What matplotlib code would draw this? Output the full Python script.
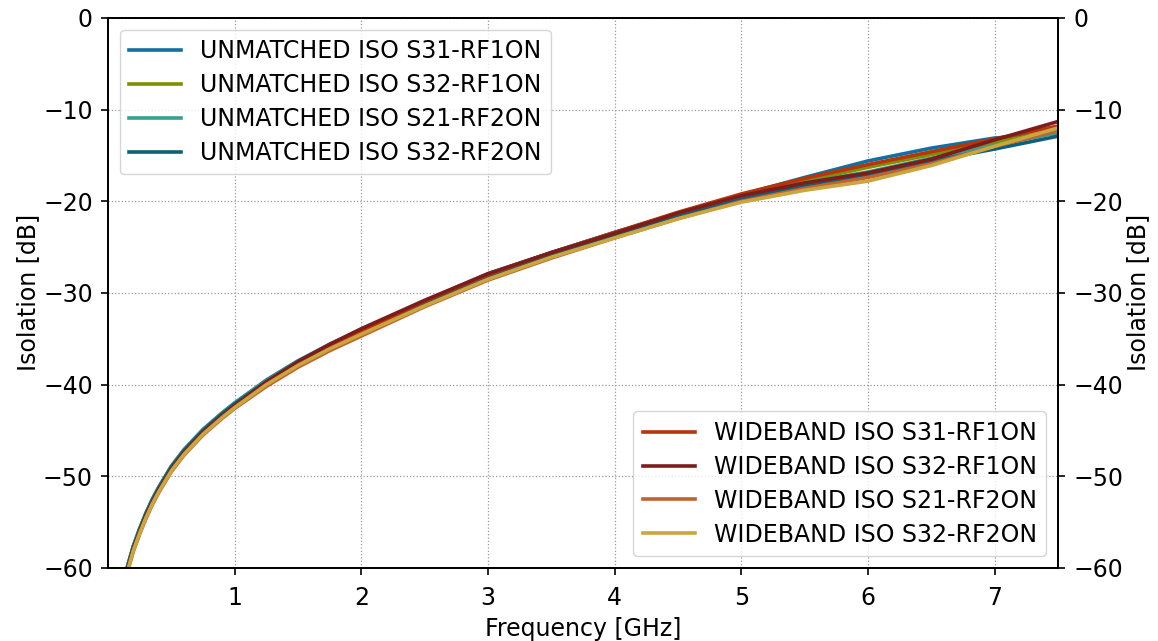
import matplotlib
matplotlib.use('Agg')
import matplotlib.pyplot as plt

# Frequency points [GHz]
freq = [0.10, 0.15, 0.20, 0.25, 0.30, 0.35, 0.40, 0.50, 0.60, 0.75, 0.90, 1.00,
        1.25, 1.50, 1.75, 2.00, 2.50, 3.00, 3.50, 4.00, 4.50, 5.00, 5.50,
        6.00, 6.50, 7.00, 7.50]

# Unmatched isolation [dB]
um_s31_rf1 = [-64.3, -60.0, -57.6, -55.7, -54.0, -52.5, -51.2, -48.9, -47.1, -44.9, -43.1, -42.0,
              -39.5, -37.4, -35.6, -34.0, -30.9, -27.9, -25.6, -23.4, -21.3, -19.3, -17.4,
              -15.6, -14.2, -13.1, -12.6]
um_s32_rf1 = [-64.4, -60.1, -57.7, -55.8, -54.1, -52.6, -51.3, -49.0, -47.2, -45.0, -43.2, -42.1,
              -39.7, -37.6, -35.8, -34.2, -31.0, -28.1, -25.8, -23.6, -21.5, -19.5, -17.8,
              -16.3, -14.9, -13.6, -12.2]
um_s21_rf2 = [-64.3, -60.0, -57.6, -55.7, -54.0, -52.5, -51.2, -48.9, -47.1, -44.9, -43.1, -42.0,
              -39.6, -37.5, -35.8, -34.2, -31.1, -28.0, -25.6, -23.4, -21.4, -19.6, -18.0,
              -16.8, -15.3, -13.9, -12.5]
um_s32_rf2 = [-64.4, -60.1, -57.7, -55.8, -54.1, -52.6, -51.3, -49.0, -47.2, -45.0, -43.2, -42.1,
              -39.7, -37.6, -35.9, -34.3, -31.2, -28.2, -25.8, -23.7, -21.7, -19.8, -18.3,
              -17.1, -15.6, -14.3, -12.9]

# Wideband isolation [dB]
wb_s31_rf1 = [-64.7, -60.4, -58.0, -56.1, -54.4, -52.9, -51.6, -49.3, -47.5, -45.3, -43.5, -42.4,
              -39.9, -37.8, -35.9, -34.2, -30.9, -28.0, -25.6, -23.4, -21.2, -19.2, -17.5,
              -16.0, -14.6, -13.2, -11.8]
wb_s32_rf1 = [-64.6, -60.3, -57.9, -56.0, -54.3, -52.8, -51.5, -49.2, -47.4, -45.2, -43.4, -42.3,
              -39.7, -37.5, -35.6, -33.9, -30.8, -27.9, -25.6, -23.5, -21.3, -19.4, -18.0,
              -16.9, -15.4, -13.3, -11.3]
wb_s21_rf2 = [-64.9, -60.6, -58.2, -56.3, -54.6, -53.1, -51.8, -49.5, -47.7, -45.5, -43.7, -42.6,
              -40.2, -38.1, -36.3, -34.7, -31.5, -28.6, -26.2, -24.0, -21.9, -20.0, -18.6,
              -17.4, -15.9, -14.0, -12.3]
wb_s32_rf2 = [-64.8, -60.5, -58.1, -56.2, -54.5, -53.0, -51.7, -49.4, -47.6, -45.4, -43.6, -42.5,
              -40.0, -37.9, -36.1, -34.5, -31.4, -28.5, -26.1, -24.0, -21.9, -20.1, -18.8,
              -17.8, -16.1, -14.0, -12.0]

unmatched = [
    ('UNMATCHED ISO S31-RF1ON', um_s31_rf1, '#1170a2'),
    ('UNMATCHED ISO S32-RF1ON', um_s32_rf1, '#808f00'),
    ('UNMATCHED ISO S21-RF2ON', um_s21_rf2, '#37a08e'),
    ('UNMATCHED ISO S32-RF2ON', um_s32_rf2, '#0e5f78'),
]
wideband = [
    ('WIDEBAND ISO S31-RF1ON', wb_s31_rf1, '#b8340a'),
    ('WIDEBAND ISO S32-RF1ON', wb_s32_rf1, '#7e1c1c'),
    ('WIDEBAND ISO S21-RF2ON', wb_s21_rf2, '#c2622e'),
    ('WIDEBAND ISO S32-RF2ON', wb_s32_rf2, '#c9a63e'),
]

plt.rcParams['font.size'] = 17

fig, ax = plt.subplots(figsize=(11.58, 6.41), dpi=100)
plt.subplots_adjust(left=0.0933, right=0.9136, top=0.972, bottom=0.114)

um_lines = []
for label, ys, color in unmatched:
    line, = ax.plot(freq, ys, color=color, lw=2.6, label=label)
    um_lines.append(line)

wb_lines = []
for label, ys, color in wideband:
    line, = ax.plot(freq, ys, color=color, lw=2.6, label=label)
    wb_lines.append(line)

ax.set_xlim(0, 7.5)
ax.set_ylim(-60, 0)
ax.set_xticks([1, 2, 3, 4, 5, 6, 7])
ax.set_yticks([0, -10, -20, -30, -40, -50, -60])
ax.grid(True, linestyle=':', color='0.6', lw=0.9)
ax.tick_params(axis='x', length=5, width=1.2, pad=8)
ax.tick_params(axis='y', length=5, width=1.2, pad=6)
ax.set_xlabel('Frequency [GHz]', labelpad=5)
ax.set_ylabel('Isolation [dB]', labelpad=2)

# Right-hand axis repeats the isolation scale
ax2 = ax.twinx()
ax2.set_ylim(-60, 0)
ax2.set_yticks([0, -10, -20, -30, -40, -50, -60])
ax2.tick_params(axis='y', length=5, width=1.2, pad=6)
ax2.set_ylabel('Isolation [dB]', labelpad=2)

for a in (ax, ax2):
    for s in a.spines.values():
        s.set_linewidth(1.3)

leg_kw = dict(fontsize=17, labelspacing=0.42, handlelength=2.2)
leg1 = ax2.legend(handles=um_lines, loc='upper left', **leg_kw)
ax2.add_artist(leg1)
ax2.legend(handles=wb_lines, loc='lower right', **leg_kw)

fig.savefig('out.png', dpi=100)
